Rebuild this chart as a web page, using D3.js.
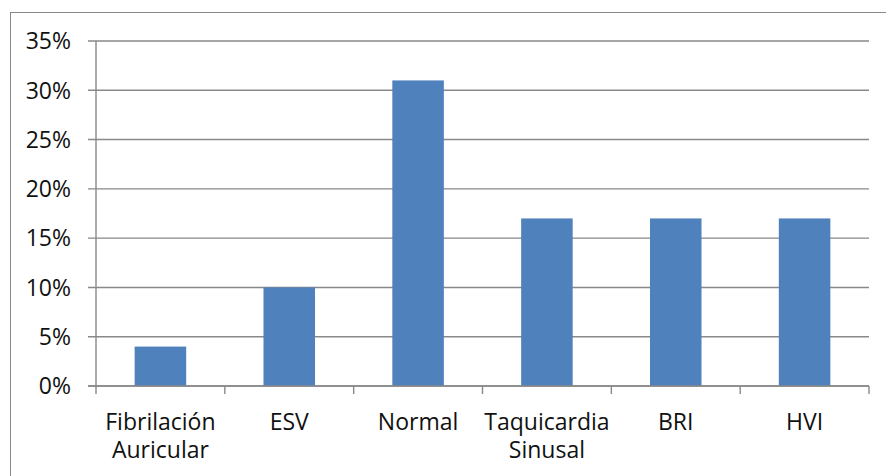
<!DOCTYPE html>
<html>
<head>
<meta charset="utf-8">
<script src="https://cdn.jsdelivr.net/npm/d3@7"></script>
<style>
  body { margin: 0; background: #fff; }
  svg { display: block; }
  text { font-family: "Open Sans", sans-serif; font-weight: 400; fill: #111; }
</style>
</head>
<body>
<div id="vis"></div>
<script>
var categories = [["Fibrilación", "Auricular"], ["ESV"], ["Normal"], ["Taquicardia", "Sinusal"], ["BRI"], ["HVI"]]
var values = [0.04, 0.10, 0.31, 0.17, 0.17, 0.17]
var yTicks = [0, 0.05, 0.10, 0.15, 0.20, 0.25, 0.30, 0.35]

var width = 886, height = 476
var margin = { top: 41, left: 96, bottom: 90, right: 17 }
var gridColor = '#898989'
var fontSize = '23px'

var svg = d3.select('#vis').append('svg')
    .attr('width', width)
    .attr('height', height)

// chart frame (right and bottom edge run off the picture)
svg.append('rect')
    .attr('x', 10.5).attr('y', 12.5)
    .attr('width', width + 10).attr('height', height + 10)
    .attr('fill', 'none')
    .attr('stroke', gridColor)
    .attr('stroke-width', 1)

var x = d3.scaleBand()
    .domain(d3.range(categories.length))
    .range([margin.left, width - margin.right])

var y = d3.scaleLinear()
    .domain([0, 0.35])
    .range([height - margin.bottom, margin.top])

// gridlines + y ticks
svg.append('g').selectAll('line')
  .data(yTicks)
  .enter().append('line')
    .attr('x1', margin.left - 8)
    .attr('x2', width - margin.right)
    .attr('y1', d => y(d))
    .attr('y2', d => y(d))
    .attr('stroke', gridColor)
    .attr('stroke-width', 1.4)

svg.append('g').selectAll('text')
  .data(yTicks)
  .enter().append('text')
    .attr('x', 71)
    .attr('y', d => y(d))
    .attr('dy', '0.36em')
    .attr('text-anchor', 'end')
    .style('font-size', fontSize)
    .text(d => d3.format('.0%')(d))

// bars
var barW = x.bandwidth() * 0.4
svg.append('g').selectAll('rect')
  .data(values)
  .enter().append('rect')
    .attr('x', (d, i) => x(i) + (x.bandwidth() - barW) / 2)
    .attr('y', d => y(d))
    .attr('width', barW)
    .attr('height', d => y(0) - y(d))
    .attr('fill', '#4F81BD')

// y axis and x axis
svg.append('line')
    .attr('x1', margin.left).attr('x2', margin.left)
    .attr('y1', y(0.35)).attr('y2', y(0))
    .attr('stroke', gridColor).attr('stroke-width', 1.4)
svg.append('line')
    .attr('x1', margin.left - 8).attr('x2', width - margin.right)
    .attr('y1', y(0)).attr('y2', y(0))
    .attr('stroke', gridColor).attr('stroke-width', 1.4)

// category ticks on boundaries
svg.append('g').selectAll('line')
  .data(d3.range(categories.length + 1))
  .enter().append('line')
    .attr('x1', i => i < categories.length ? x(i) : x.range()[1])
    .attr('x2', i => i < categories.length ? x(i) : x.range()[1])
    .attr('y1', y(0))
    .attr('y2', y(0) + 8)
    .attr('stroke', gridColor).attr('stroke-width', 1.4)

// category labels
var lbl = svg.append('g').selectAll('text')
  .data(categories)
  .enter().append('text')
    .attr('text-anchor', 'middle')
    .attr('x', (d, i) => x(i) + x.bandwidth() / 2)
    .attr('y', 430)
    .style('font-size', fontSize)

lbl.selectAll('tspan')
  .data(d => d)
  .enter().append('tspan')
    .attr('x', function() { return d3.select(this.parentNode).attr('x') })
    .attr('dy', (d, i) => i === 0 ? 0 : 28)
    .text(d => d)
</script>
</body>
</html>
